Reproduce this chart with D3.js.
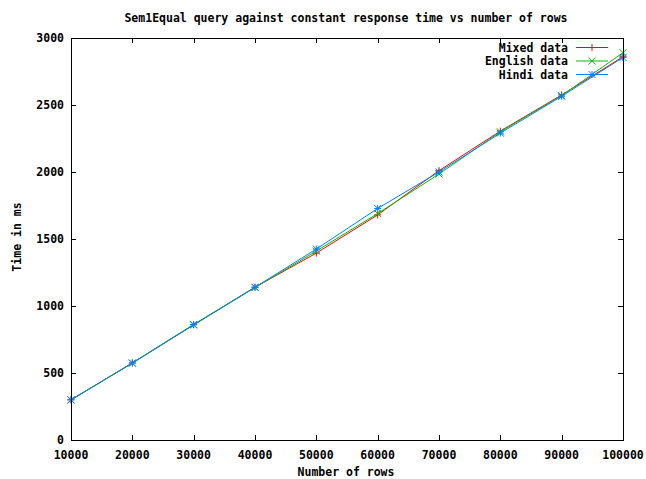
<!DOCTYPE html>
<html>
<head>
<meta charset="utf-8">
<script src="https://cdn.jsdelivr.net/npm/d3@7/dist/d3.min.js"></script>
<style>
  html, body { margin: 0; padding: 0; background: #fff; overflow: hidden; }
  svg text { font-family: "DejaVu Sans Mono", "Liberation Mono", monospace; font-weight: bold; fill: #000; font-size: 11.5px; }
</style>
</head>
<body>
<svg id="chart" width="646" height="479"></svg>
<script>
const rows = [10000, 20000, 30000, 40000, 50000, 60000, 70000, 80000, 90000, 100000];
const mixed   = [300, 575, 860, 1140, 1395, 1680, 2010, 2305, 2575, 2860];
const english = [298, 573, 858, 1138, 1410, 1690, 1985, 2300, 2570, 2890];
const hindi   = [300, 575, 862, 1140, 1425, 1728, 2000, 2290, 2565, 2855];
const xTicks = [10000, 20000, 30000, 40000, 50000, 60000, 70000, 80000, 90000, 100000];
const yTicks = [0, 500, 1000, 1500, 2000, 2500, 3000];
const seriesNames = ["Mixed data", "English data", "Hindi data"];
const seriesColors = ["#ff0000", "#00c000", "#0080ff"];
const seriesPoints = ["plus", "cross", "star"];
const title = "Sem1Equal query against constant response time vs number of rows";
const xLabel = "Number of rows";
const yLabel = "Time in ms";

const svg = d3.select("#chart");
const L = 71, R = 623, T = 38, B = 440;
const x = d3.scaleLinear().domain([10000, 100000]).range([L, R]);
const y = d3.scaleLinear().domain([0, 3000]).range([B, T]);

svg.append("rect").attr("width", 646).attr("height", 479).attr("fill", "#fff");

// ticks (inward, mirrored)
const tl = 5;
const g = svg.append("g").attr("stroke", "#000").attr("stroke-width", 1);
xTicks.forEach(v => {
  const px = Math.round(x(v)) + 0.5;
  g.append("line").attr("x1", px).attr("x2", px).attr("y1", B).attr("y2", B - tl);
  g.append("line").attr("x1", px).attr("x2", px).attr("y1", T).attr("y2", T + tl);
});
yTicks.forEach(v => {
  const py = Math.round(y(v)) + 0.5;
  g.append("line").attr("x1", L).attr("x2", L + tl).attr("y1", py).attr("y2", py);
  g.append("line").attr("x1", R).attr("x2", R - tl).attr("y1", py).attr("y2", py);
});

// tick labels
svg.append("g").selectAll("text").data(xTicks).join("text")
  .attr("x", d => x(d)).attr("y", 459).attr("text-anchor", "middle")
  .text(d => d);
svg.append("g").selectAll("text").data(yTicks).join("text")
  .attr("x", 64).attr("y", d => y(d) + 4.2).attr("text-anchor", "end")
  .text(d => d);

// axis labels & title
svg.append("text").attr("x", 346).attr("y", 476).attr("text-anchor", "middle")
  .text(xLabel);
svg.append("text").attr("transform", `translate(21,237) rotate(-90)`)
  .attr("text-anchor", "middle").text(yLabel);
svg.append("text").attr("x", 346).attr("y", 22).attr("text-anchor", "middle")
  .text(title);

function drawPoint(sel, type, cx, cy, color) {
  const s = 3.5;
  const p = sel.append("g").attr("stroke", color).attr("stroke-width", 1).attr("fill", "none");
  if (type === "plus" || type === "star") {
    p.append("line").attr("x1", cx - s).attr("x2", cx + s).attr("y1", cy).attr("y2", cy);
    p.append("line").attr("x1", cx).attr("x2", cx).attr("y1", cy - s).attr("y2", cy + s);
  }
  if (type === "cross" || type === "star") {
    p.append("line").attr("x1", cx - s).attr("x2", cx + s).attr("y1", cy - s).attr("y2", cy + s);
    p.append("line").attr("x1", cx - s).attr("x2", cx + s).attr("y1", cy + s).attr("y2", cy - s);
  }
}

const data = [mixed, english, hindi];
const line = d3.line().x((d, i) => x(rows[i])).y(d => y(d));
const plot = svg.append("g");
data.forEach((vals, k) => {
  plot.append("path").datum(vals).attr("d", line)
    .attr("fill", "none").attr("stroke", seriesColors[k]).attr("stroke-width", 1);
  vals.forEach((v, i) => drawPoint(plot, seriesPoints[k], x(rows[i]), y(v), seriesColors[k]));
});

// legend
const legY = [47.5, 61, 74.5];
seriesNames.forEach((n, k) => {
  svg.append("text").attr("x", 568).attr("y", legY[k] + 4).attr("text-anchor", "end")
    .text(n);
  svg.append("line").attr("x1", 576).attr("x2", 608).attr("y1", legY[k]).attr("y2", legY[k])
    .attr("stroke", seriesColors[k]).attr("stroke-width", 1);
  drawPoint(svg, seriesPoints[k], 592, legY[k], seriesColors[k]);
});

// border
svg.append("rect").attr("x", L + 0.5).attr("y", T + 0.5).attr("width", R - L).attr("height", B - T)
  .attr("fill", "none").attr("stroke", "#000").attr("stroke-width", 1);
</script>
</body>
</html>
